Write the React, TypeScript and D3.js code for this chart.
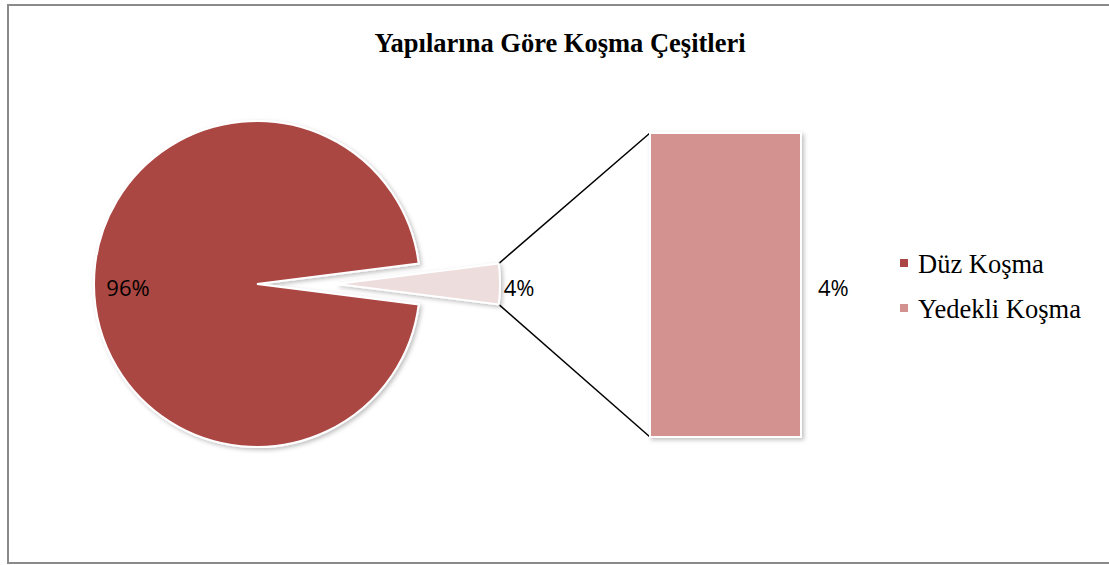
import React from 'react';
import * as d3 from 'd3';

const title = 'Yapılarına Göre Koşma Çeşitleri';
const categories = ['Düz Koşma', 'Yedekli Koşma'];
const values = [96, 4];
const colors = ['#AA4643', '#D39290'];
const sliceColors = ['#AA4643', '#EEDDDD'];

const W = 1109;
const H = 565;

const App = () => {
  const total = d3.sum(values);
  const splitShare = values[1] / total;

  // pie: small slice centred on the right horizontal, like Excel's bar-of-pie
  const cx = 257;
  const cy = 284;
  const r = 163;
  const explode = 80;

  const pie = d3
    .pie<number>()
    .sort(null)
    .value(d => d)
    .startAngle(Math.PI / 2 + splitShare * Math.PI)
    .endAngle(Math.PI / 2 + splitShare * Math.PI + 2 * Math.PI);
  const arcs = pie(values);
  const arc = d3.arc<d3.PieArcDatum<number>>().innerRadius(0).outerRadius(r);
  const labelArc = d3.arc<d3.PieArcDatum<number>>().innerRadius(129).outerRadius(129);

  // second plot: single stacked bar
  const barX = 650;
  const barW = 151;
  const y = d3.scaleLinear().domain([0, values[1]]).range([437, 133]);

  const small = arcs[1];
  const sx = cx + explode;
  const topPt = [sx + r * Math.sin(small.startAngle), cy - r * Math.cos(small.startAngle)];
  const botPt = [sx + r * Math.sin(small.endAngle), cy - r * Math.cos(small.endAngle)];

  const pct = (v: number) => d3.format('.0%')(v / total);
  const bigLabel = labelArc.centroid(arcs[0]);

  return (
    <svg width={W} height={H} style={{ position: 'absolute', left: 0, top: 0 }}>
      <defs>
        <filter id="sh" x="-20%" y="-20%" width="140%" height="140%">
          <feDropShadow dx="2" dy="2" stdDeviation="2" floodColor="#000" floodOpacity="0.25" />
        </filter>
      </defs>
      <rect x={0} y={0} width={W} height={H} fill="#fff" />
      <rect x={8} y={5} width={W + 10} height={558} fill="none" stroke="#8a8a8a" strokeWidth={2} />
      <text
        x={560}
        y={52}
        textAnchor="middle"
        fontFamily="'Liberation Serif', 'Times New Roman', serif"
        fontWeight="bold"
        fontSize={26.5}
        fill="#000"
      >
        {title}
      </text>

      <line x1={topPt[0]} y1={topPt[1]} x2={barX} y2={y(values[1])} stroke="#000" strokeWidth={1.5} />
      <line x1={botPt[0]} y1={botPt[1]} x2={barX} y2={y(0)} stroke="#000" strokeWidth={1.5} />

      <g transform={`translate(${cx},${cy})`}>
        <path d={arc(arcs[0]) || ''} fill={sliceColors[0]} stroke="#fff" strokeWidth={2} filter="url(#sh)" />
      </g>
      <g transform={`translate(${sx},${cy})`}>
        <path d={arc(small) || ''} fill={sliceColors[1]} stroke="#fff" strokeWidth={2} filter="url(#sh)" />
      </g>

      <rect
        x={barX}
        y={y(values[1])}
        width={barW}
        height={y(0) - y(values[1])}
        fill={colors[1]}
        stroke="#fff"
        strokeWidth={2}
        filter="url(#sh)"
      />

      <g fontFamily="'Open Sans', sans-serif" fontSize={22} fill="#000">
        <text x={cx + bigLabel[0]} y={cy + bigLabel[1] + 3} textAnchor="middle" dominantBaseline="central">
          {pct(values[0])}
        </text>
        <text x={topPt[0] + 5} y={cy + 3} dominantBaseline="central">
          {pct(values[1])}
        </text>
        <text x={barX + barW + 17} y={cy + 3} dominantBaseline="central">
          {pct(values[1])}
        </text>
      </g>

      <g fontFamily="'Liberation Serif', 'Times New Roman', serif" fontSize={26.5} fill="#000">
        {categories.map((c, i) => (
          <g key={c} transform={`translate(900,${263 + i * 45})`}>
            <rect x={0} y={-4} width={8} height={8} fill={colors[i]} />
            <text x={18} y={1} dominantBaseline="central">
              {c}
            </text>
          </g>
        ))}
      </g>
    </svg>
  );
};

export default App;
